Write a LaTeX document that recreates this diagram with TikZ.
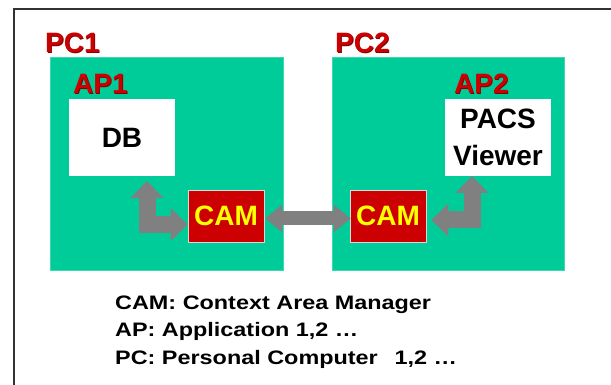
\documentclass[tikz,border=0pt]{standalone}
\usepackage{fontspec}
\setmainfont{Liberation Sans}
\usepackage{graphicx}
\usetikzlibrary{arrows.meta,calc}

\definecolor{boardgreen}{HTML}{00CC99}
\definecolor{boardedge}{HTML}{3DD9AE}
\definecolor{labelred}{HTML}{CC0000}
\definecolor{labelshade}{HTML}{800000}
\definecolor{camred}{HTML}{CC0000}
\definecolor{camyellow}{HTML}{FFFF00}
\definecolor{linkgray}{HTML}{808080}

% red heading with a small dark drop shadow
\newcommand{\shadedlabel}[1]{{\color{labelshade}\rlap{\kern0.8pt\raisebox{-0.8pt}{#1}}}{\color{labelred}#1}}

\begin{document}
\begin{tikzpicture}[x=1pt,y=-1pt,
  board/.style={rectangle, fill=boardgreen, draw=boardedge, line width=0.7pt, inner sep=0pt},
  appbox/.style={rectangle, fill=white, inner sep=0pt, align=center,
    font=\fontsize{28}{37}\selectfont\bfseries},
  cambox/.style={rectangle, fill=camred, draw=black!15, line width=0.7pt, inner sep=0pt,
    minimum width=76pt, minimum height=52pt, text=camyellow,
    font=\fontsize{28}{30}\selectfont\bfseries},
  tag/.style={anchor=base west, inner sep=0pt, font=\fontsize{28}{30}\selectfont\bfseries},
  legend/.style={anchor=base west, inner sep=0pt, font=\fontsize{19.5}{24}\selectfont\bfseries},
  linktip/.tip={Triangle[width=33pt,length=17pt,line width=0pt]},
  bustip/.tip={Triangle[width=28pt,length=17pt,line width=0pt]},
  link/.style={draw=linkgray, line width=17pt, line join=miter, linktip-linktip},
  bus/.style={draw=linkgray, line width=14pt, bustip-bustip}]

\useasboundingbox (0,0) rectangle (611,385);

% frame
\draw[black!80, line width=2.4pt] (14,385) -- (14,9) -- (611,9);

% computers
\node[board, minimum width=233pt, minimum height=213pt] (pc1) at (166.5,163.5) {};
\node[board, minimum width=232pt, minimum height=213pt] (pc2) at (448,163.5) {};

\node[tag] (pc1tag) at (45,53) {\shadedlabel{PC1}};
\node[tag] (pc2tag) at (335,53) {\shadedlabel{PC2}};
\node[tag] (ap1tag) at (73,94) {\shadedlabel{AP1}};
\node[tag] (ap2tag) at (454,94) {\shadedlabel{AP2}};

% applications
\node[appbox, minimum width=106pt, minimum height=77pt] (db) at (122,137.5) {DB};
\node[appbox, minimum width=106pt, minimum height=77pt] (viewer) at (498,137.5) {PACS\\Viewer};

% context area managers
\node[cambox] (cam1) at (226,216) {CAM};
\node[cambox] (cam2) at (388,216) {CAM};

% links
\coordinate (dbport) at (147,181);
\coordinate (viewerport) at (472,176);
\draw[link] (dbport) |- ($(cam1.west)+(0,8.5)$);
\draw[link] (viewerport) |- ($(cam2.east)+(5,4)$);
\draw[bus] ($(cam1.east)+(1,2.5)$) -- ($(cam2.west)+(1,2.5)$);

% legend
\node[legend] (leg1) at (115,309) {\scalebox{1.2}[1]{CAM: Context Area Manager}};
\node[legend] (leg2) at (115,336.5) {\scalebox{1.2}[1]{AP: Application 1,2 …}};
\node[legend] (leg3) at (115,364) {\scalebox{1.2}[1]{PC: Personal Computer\hspace{14pt}1,2 …}};
\end{tikzpicture}
\end{document}
